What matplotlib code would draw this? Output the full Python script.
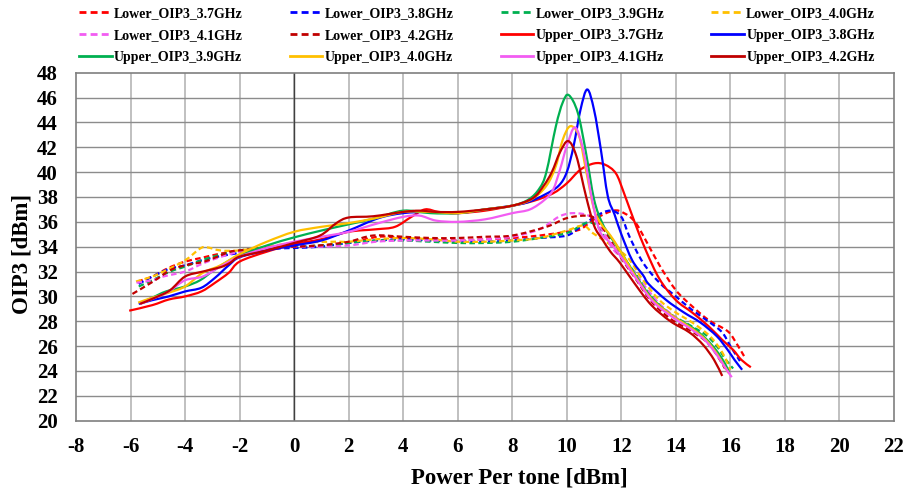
import numpy as np
import matplotlib
matplotlib.use("Agg")
import matplotlib.pyplot as plt
from matplotlib.path import Path
from matplotlib.patches import PathPatch
from matplotlib.lines import Line2D

plt.rcParams["font.family"] = ["Liberation Serif", "DejaVu Serif"]
plt.rcParams["font.weight"] = "bold"
plt.rcParams["axes.unicode_minus"] = False

# ---------------------------------------------------------------------------
# Data (power per tone [dBm] -> OIP3 [dBm])
# ---------------------------------------------------------------------------
lower_37_x = [-5.75, -5.2, -4.6, -4.0, -3.4, -2.8, -2.0, -1.0, 0, 1.0, 2.0, 3.1, 4.0, 5.0, 6.0, 7.0,
              8.0, 9.0, 10.0, 10.5, 11.0, 11.7, 12.1, 12.5, 12.9, 13.4, 14.0, 14.6, 15.2, 15.9, 16.2, 16.5]
lower_37_y = [31.2, 31.6, 32.3, 32.8, 33.1, 33.4, 33.7, 33.9, 34.0, 34.1, 34.3, 34.8, 34.7, 34.6, 34.5, 34.6,
              34.7, 34.9, 35.2, 35.4, 36.2, 36.9, 36.7, 36.0, 34.5, 32.5, 30.5, 29.2, 28.1, 27.2, 26.3, 25.2]

lower_38_x = [-5.7, -5.2, -4.6, -4.0, -3.4, -2.8, -2.0, -1.0, 0, 0.95, 2.0, 3.0, 4.0, 5.0, 6.0, 7.0,
              8.0, 9.0, 10.0, 10.5, 11.1, 11.6, 12.0, 12.3, 12.8, 13.4, 14.0, 14.6, 15.25, 15.7, 16.0, 16.35]
lower_38_y = [31.0, 31.6, 32.2, 32.5, 32.9, 33.2, 33.5, 33.8, 33.9, 34.0, 34.3, 34.5, 34.6, 34.5, 34.4, 34.4,
              34.5, 34.7, 34.9, 35.6, 36.5, 36.9, 36.4, 34.8, 32.7, 31.1, 30.0, 28.9, 27.9, 27.1, 26.0, 24.8]

lower_39_x = [-5.7, -5.2, -4.55, -4.0, -3.4, -2.8, -2.0, -1.0, 0, 1.0, 2.0, 3.0, 4.0, 5.0, 6.0, 7.0,
              8.0, 9.0, 10.0, 10.7, 11.1, 11.45, 11.9, 12.5, 13.1, 13.8, 14.5, 15.1, 15.5, 15.8, 16.1]
lower_39_y = [30.8, 31.3, 32.0, 32.4, 32.9, 33.3, 33.7, 33.9, 34.0, 34.1, 34.3, 34.5, 34.5, 34.4, 34.3, 34.3,
              34.4, 34.7, 35.1, 35.9, 35.7, 34.6, 33.6, 31.9, 30.0, 28.6, 27.7, 26.9, 26.0, 25.0, 24.2]

lower_40_x = [-5.8, -5.2, -4.7, -4.0, -3.45, -3.2, -2.7, -2.0, -1.0, 0, 1.45, 2.0, 3.0, 4.0, 5.0, 6.0,
              7.0, 8.0, 9.0, 10.0, 10.6, 10.95, 11.5, 12.2, 12.8, 13.4, 14.0, 14.6, 15.25, 15.7, 16.0]
lower_40_y = [31.2, 31.6, 32.1, 32.9, 33.85, 33.95, 33.7, 33.7, 34.0, 34.3, 34.4, 34.4, 34.6, 34.7, 34.6, 34.4,
              34.4, 34.5, 34.7, 35.3, 35.7, 35.1, 34.3, 33.2, 31.3, 29.7, 28.7, 27.9, 26.8, 25.5, 24.1]

lower_41_x = [-5.78, -5.2, -4.8, -4.0, -3.4, -2.8, -2.0, -1.0, 0, 1.0, 2.0, 3.0, 4.0, 5.0, 6.0, 7.0,
              8.0, 9.0, 9.7, 10.2, 10.8, 11.2, 11.7, 12.2, 12.8, 13.4, 14.0, 14.6, 15.2, 15.6, 15.9]
lower_41_y = [31.1, 31.3, 31.6, 32.0, 32.6, 33.1, 33.6, 33.9, 34.0, 34.0, 34.1, 34.4, 34.5, 34.5, 34.5, 34.6,
              34.8, 35.4, 36.4, 36.7, 36.5, 35.7, 33.8, 32.7, 31.0, 29.4, 28.3, 27.4, 26.3, 25.0, 23.9]

lower_42_x = [-5.93, -5.17, -4.55, -4.0, -3.3, -2.7, -2.35, -2.0, -1.0, 0, 0.95, 2.0, 2.9, 4.0, 5.0, 6.0,
              7.0, 8.0, 9.25, 10.0, 10.7, 11.0, 11.45, 11.9, 12.5, 13.1, 13.8, 14.5, 15.1, 15.5, 15.8]
lower_42_y = [30.2, 31.2, 32.1, 32.5, 32.8, 33.3, 33.6, 33.7, 33.9, 34.0, 34.1, 34.4, 34.9, 34.8, 34.7, 34.7,
              34.8, 34.9, 35.6, 36.3, 36.5, 36.3, 35.1, 33.4, 31.5, 29.6, 28.2, 27.3, 26.4, 25.3, 24.2]

upper_37_x = [-6.05, -5.2, -4.6, -4.0, -3.4, -2.9, -2.4, -2.0, -1.0, 0, 1.0, 2.0, 3.0, 3.7, 4.3, 4.8,
              5.3, 6.0, 7.0, 8.0, 8.8, 9.5, 10.0, 10.5, 11.0, 11.4, 11.8, 12.1, 12.5, 12.9, 13.4, 14.0,
              14.6, 15.2, 15.7, 16.1, 16.4, 16.75]
upper_37_y = [28.85, 29.3, 29.75, 30.0, 30.4, 31.1, 31.9, 32.8, 33.6, 34.2, 34.6, 35.2, 35.4, 35.6, 36.4, 37.0,
              36.8, 36.7, 36.9, 37.3, 37.7, 38.3, 39.1, 40.2, 40.7, 40.6, 39.9, 38.3, 35.9, 33.7, 31.4, 29.7,
              28.7, 27.6, 26.5, 25.7, 24.9, 24.3]

upper_38_x = [-5.7, -5.2, -4.6, -4.0, -3.4, -2.9, -2.4, -2.0, -1.0, 0, 1.0, 2.0, 3.1, 4.0, 5.0, 6.0,
              7.0, 8.0, 8.6, 9.2, 9.7, 10.0, 10.25, 10.5, 10.75, 11.0, 11.25, 11.5, 11.75, 12.0, 12.4, 12.8,
              13.0, 13.65, 14.3, 14.9, 15.5, 15.9, 16.15, 16.43]
upper_38_y = [29.4, 29.7, 30.0, 30.4, 30.7, 31.5, 32.5, 33.15, 33.7, 34.1, 34.5, 35.3, 36.3, 36.7, 36.8, 36.7,
              37.0, 37.3, 37.6, 38.2, 38.9, 40.0, 42.1, 45.0, 46.65, 45.0, 41.8, 38.1, 36.6, 35.0, 32.9, 31.7,
              31.0, 29.7, 28.7, 27.9, 26.8, 25.7, 24.9, 24.1]

upper_39_x = [-5.65, -5.2, -4.7, -4.0, -3.45, -2.95, -2.45, -2.0, -1.0, 0, 1.0, 2.0, 3.0, 4.0, 5.0, 6.0,
              7.0, 8.0, 8.6, 9.0, 9.25, 9.6, 9.85, 10.07, 10.4, 10.7, 11.0, 11.3, 11.6, 11.95, 12.55, 13.15,
              13.9, 14.6, 15.1, 15.5, 15.8, 15.95]
upper_39_y = [29.45, 29.9, 30.4, 30.8, 31.3, 32.1, 32.8, 33.3, 34.1, 34.75, 35.3, 35.8, 36.3, 36.9, 36.7, 36.7,
              37.0, 37.3, 37.8, 38.7, 40.0, 43.7, 45.6, 46.2, 44.8, 41.6, 37.8, 35.9, 34.8, 33.7, 31.6, 29.8,
              28.4, 27.5, 26.6, 25.6, 24.6, 23.9]

upper_40_x = [-5.72, -5.2, -4.6, -4.0, -3.35, -2.7, -2.0, -1.0, 0, 1.0, 2.0, 3.0, 4.0, 5.0, 6.0, 7.0,
              8.0, 8.7, 9.25, 9.6, 9.85, 10.13, 10.45, 10.7, 11.0, 11.27, 11.6, 11.95, 12.55, 13.15, 13.9, 14.6,
              15.1, 15.5, 15.75, 15.95]
upper_40_y = [29.5, 29.9, 30.3, 30.8, 31.9, 32.5, 33.4, 34.4, 35.2, 35.6, 35.9, 36.3, 36.8, 36.8, 36.7, 37.0,
              37.3, 37.8, 38.9, 40.5, 42.6, 43.7, 42.9, 40.2, 37.0, 35.8, 34.9, 33.7, 31.5, 29.7, 28.4, 27.4,
              26.5, 25.4, 24.5, 23.8]

upper_41_x = [-5.65, -5.2, -4.6, -4.0, -3.35, -2.7, -2.0, -1.0, 0, 1.0, 2.0, 3.1, 4.0, 4.6, 5.2, 6.0,
              7.0, 8.0, 8.65, 9.2, 9.5, 9.75, 10.0, 10.3, 10.6, 10.9, 11.2, 11.6, 11.95, 12.55, 13.15, 13.9,
              14.6, 15.1, 15.5, 15.8, 16.05]
upper_41_y = [29.4, 29.8, 30.4, 31.3, 31.6, 32.4, 33.2, 33.9, 34.4, 34.8, 35.2, 35.9, 36.4, 36.5, 36.1, 36.0,
              36.2, 36.7, 37.0, 37.8, 38.6, 40.2, 42.1, 43.6, 41.8, 38.1, 35.3, 34.3, 33.3, 31.4, 29.6, 28.3,
              27.3, 26.4, 25.3, 24.3, 23.5]

upper_42_x = [-5.65, -5.1, -4.55, -4.0, -3.35, -2.7, -2.35, -2.0, -1.0, 0, 0.95, 1.55, 2.0, 2.9, 4.0, 4.6,
              5.2, 6.0, 7.0, 8.0, 8.75, 9.15, 9.45, 9.75, 10.05, 10.35, 10.7, 11.0, 11.3, 11.6, 11.95, 12.5,
              13.1, 13.8, 14.5, 15.0, 15.4, 15.7]
upper_42_y = [29.4, 29.9, 30.5, 31.6, 32.0, 32.35, 32.7, 33.2, 33.7, 34.3, 34.9, 35.9, 36.35, 36.45, 36.8, 36.9,
              36.8, 36.8, 37.0, 37.3, 37.9, 38.9, 40.0, 41.6, 42.5, 41.3, 38.1, 35.7, 34.6, 33.6, 32.7, 31.0,
              29.3, 28.0, 27.1, 26.1, 24.9, 23.6]

labels = ["Lower_OIP3_3.7GHz", "Lower_OIP3_3.8GHz", "Lower_OIP3_3.9GHz", "Lower_OIP3_4.0GHz",
          "Lower_OIP3_4.1GHz", "Lower_OIP3_4.2GHz", "Upper_OIP3_3.7GHz", "Upper_OIP3_3.8GHz",
          "Upper_OIP3_3.9GHz", "Upper_OIP3_4.0GHz", "Upper_OIP3_4.1GHz", "Upper_OIP3_4.2GHz"]
series_x = [lower_37_x, lower_38_x, lower_39_x, lower_40_x, lower_41_x, lower_42_x,
            upper_37_x, upper_38_x, upper_39_x, upper_40_x, upper_41_x, upper_42_x]
series_y = [lower_37_y, lower_38_y, lower_39_y, lower_40_y, lower_41_y, lower_42_y,
            upper_37_y, upper_38_y, upper_39_y, upper_40_y, upper_41_y, upper_42_y]

freq_colors = ["#FF0000", "#0000FF", "#00B050", "#FFC000", "#F25CF2", "#C00000"]
colors = freq_colors + freq_colors
dash = (0, (2.5, 1.5))
styles = [dash] * 6 + ["-"] * 6


def smooth_path(x, y):
    # Excel-style smoothed line: cubic Bezier through every point
    p = np.column_stack([x, y]).astype(float)
    n = len(p)
    verts = [p[0]]
    codes = [Path.MOVETO]
    for i in range(n - 1):
        p0 = p[i - 1] if i > 0 else p[i]
        p3 = p[i + 2] if i + 2 < n else p[i + 1]
        c1 = p[i] + (p[i + 1] - p0) / 6.0
        c2 = p[i + 1] - (p3 - p[i]) / 6.0
        verts += [c1, c2, p[i + 1]]
        codes += [Path.CURVE4] * 3
    return Path(verts, codes)


fig = plt.figure(figsize=(9.1, 4.92), dpi=100)
ax = fig.add_axes([76 / 910, 1 - 420.7 / 492, 818 / 910, 348 / 492])

handles = []
for xs, ys, c, ls, lab in zip(series_x, series_y, colors, styles, labels):
    patch = PathPatch(smooth_path(xs, ys), facecolor="none", edgecolor=c, lw=1.6,
                      linestyle=ls, capstyle="butt", zorder=3)
    ax.add_patch(patch)
    handles.append(Line2D([], [], color=c, lw=2.0, linestyle=ls, label=lab))

ax.set_xlim(-8, 22)
ax.set_ylim(20, 48)
ax.set_xticks(np.arange(-8, 23, 2))
ax.set_yticks(np.arange(20, 49, 2))
ax.set_xticklabels([str(v) for v in range(-8, 23, 2)])
ax.set_yticklabels([str(v) for v in range(20, 49, 2)])
ax.tick_params(length=0, labelsize=15, pad=13)
ax.tick_params(axis="x", pad=12)

for v in range(-6, 22, 2):
    ax.axvline(v, color="#c0c0c0", lw=1.4, zorder=1)
for v in range(22, 48, 2):
    ax.axhline(v, color="#8c8c8c", lw=1.0, zorder=1)
ax.axvline(0, color="#404040", lw=1.0, zorder=2)
for s in ax.spines.values():
    s.set_color("#7f7f7f")
    s.set_linewidth(1.2)

fig.text(519 / 910, 1 - 478 / 492, "Power Per tone [dBm]", ha="center", va="center",
         fontsize=16.5, fontweight="bold")
fig.text(22 / 910, 1 - 254 / 492, "OIP3 [dBm]", ha="center", va="center", rotation=90,
         fontsize=16.5, fontweight="bold")

# legend is filled row by row in the reference
order = np.arange(12).reshape(3, 4).T.flatten()
fig.legend([handles[i] for i in order], [labels[i] for i in order], ncol=4,
           loc="upper left", bbox_to_anchor=(79 / 910, 1 - 7 / 492), frameon=False,
           fontsize=10, handlelength=2.35, handletextpad=0.15, columnspacing=3.4,
           labelspacing=0.66, borderpad=0, borderaxespad=0)

fig.savefig("out.png", dpi=100)
